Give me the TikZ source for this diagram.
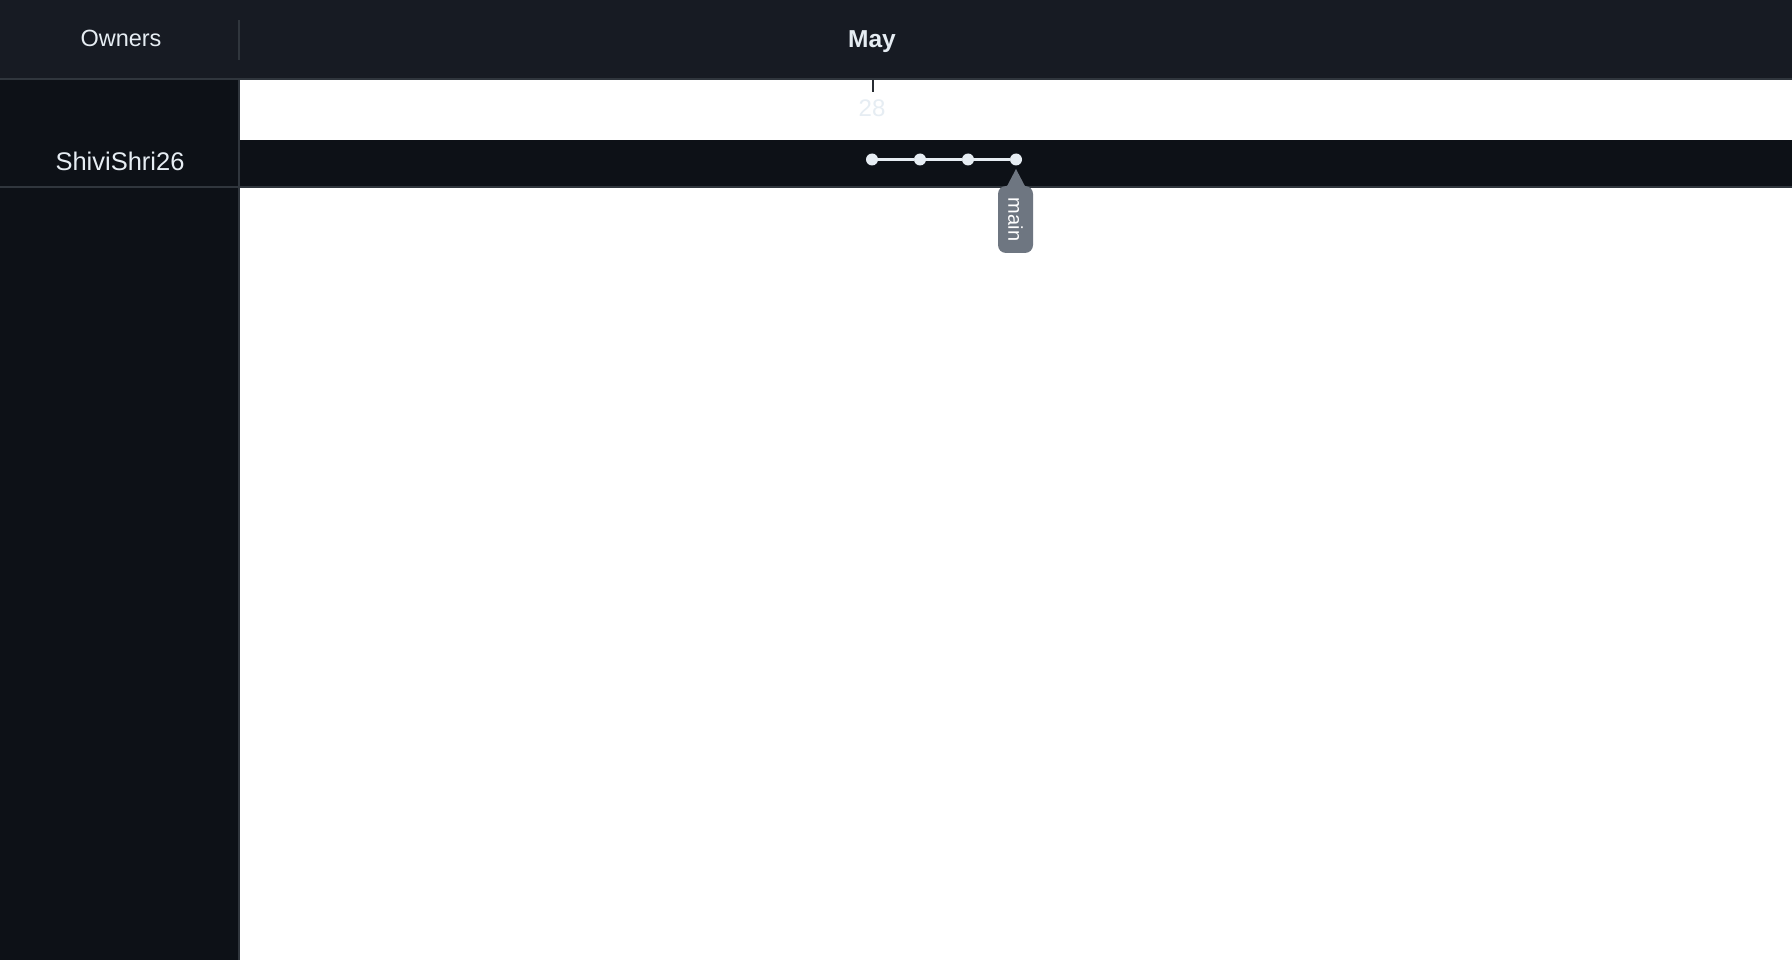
\documentclass[tikz,border=0pt]{standalone}
\usepackage{fontspec}
\setmainfont{Liberation Sans}
\usetikzlibrary{positioning}
\definecolor{headbg}{HTML}{171B23}
\definecolor{canvasbg}{HTML}{0D1117}
\definecolor{rulegrey}{HTML}{30363D}
\definecolor{fgpale}{HTML}{E6EDF3}
\definecolor{taggrey}{HTML}{6E7681}
\tikzset{every node/.style={inner sep=0pt, text=fgpale},
  commit/.style={circle, fill=fgpale, minimum size=12pt},
  branch/.style={fgpale, line width=3pt},
  tagbox/.style={fill=taggrey, rounded corners=8pt, minimum width=67pt, minimum height=35pt, text=white, font=\fontsize{20}{20}\selectfont},
  grid/.style={rulegrey, line width=2pt}}

\begin{document}
\begin{tikzpicture}[x=1pt,y=-1pt]
  \useasboundingbox (0,0) rectangle (1792,960);
  % panels
  \fill[white] (0,0) rectangle (1792,960);
  \fill[headbg] (0,0) rectangle (1792,79);
  \fill[canvasbg] (0,79) rectangle (239,960);
  \fill[canvasbg] (239,140) rectangle (1792,187);
  \draw[grid] (0,79) -- (1792,79);
  \draw[grid] (0,187) -- (1792,187);
  \draw[grid] (239,79) -- (239,960);
  \draw[rulegrey, line width=1.5pt] (239,20) -- (239,60);
  % header texts
  \node[anchor=base, font=\fontsize{23.5}{24}\selectfont] (owners) at (121,47) {Owners};
  \node[anchor=base, font=\bfseries\fontsize{24.5}{25}\selectfont] (month) at (872,47.5) {May};
  \draw[rulegrey!80!black, line width=1.5pt] (873,80) -- (873,92);
  \node[anchor=base, font=\fontsize{24}{24}\selectfont] (day) at (872,117) {28};
  \node[anchor=base, font=\fontsize{25.5}{26}\selectfont] (owner) at (120,171) {ShiviShri26};
  % commits
  \foreach \i/\x in {1/872,2/920,3/968,4/1016}
    \node[commit] (c\i) at (\x,159.5) {};
  \draw[branch] (c1) -- (c2) -- (c3) -- (c4);
  % branch tag
  \fill[taggrey] (1005,190) -- (1016,169) -- (1027,190) -- cycle;
  \node[tagbox, rotate=-90] (tag) at (1015.5,219.5) {main};
\end{tikzpicture}
\end{document}
